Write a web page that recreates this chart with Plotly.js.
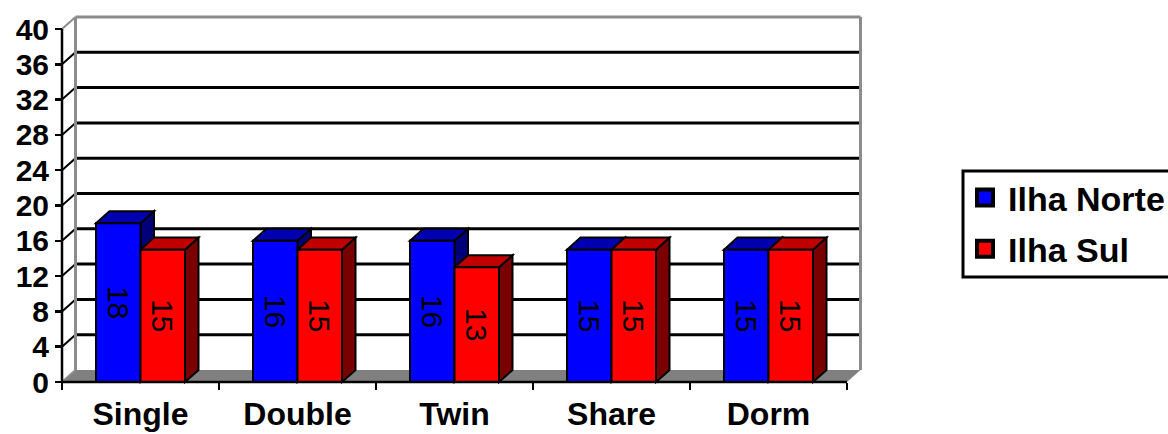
<!DOCTYPE html>
<html>
<head>
<meta charset="utf-8">
<script src="https://cdn.plot.ly/plotly-3.0.1.min.js"></script>
<style>
  html, body { margin: 0; padding: 0; background: #ffffff; }
  #chart { width: 1168px; height: 434px; }
</style>
</head>
<body>
<div id="chart"></div>
<script>
// ---- data ----
const categories = ['Single', 'Double', 'Twin', 'Share', 'Dorm'];
const ilhaNorte = [18, 16, 16, 15, 15];
const ilhaSul = [15, 15, 13, 15, 15];
const seriesNames = ['Ilha Norte', 'Ilha Sul'];
const yTickValues = [0, 4, 8, 12, 16, 20, 24, 28, 32, 36, 40];

// ---- styling / geometry ----
const FONT = 'Liberation Sans, Arial, sans-serif';
const frontColors = ['#0000FF', '#FF0000'];
const topColors = ['#0000B0', '#C00000'];
const sideColors = ['#00007A', '#7A0000'];
const WALL_GRAY = '#8c8c8c';

const W = 1168, H = 434;
const mL = 57, mR = 302, mT = 13, mB = 49;
const plotW = W - mL - mR, plotH = H - mT - mB;
const U = 157;            // px per category
const V = 353 / 40;       // px per y unit
const frontLeftPx = 62, frontZeroPx = 382;
const xr0 = -0.5 - (frontLeftPx - mL) / U;
const xr1 = xr0 + plotW / U;
const yr0 = -((H - mB) - frontZeroPx) / V;
const yr1 = yr0 + plotH / V;
const DX = 13.5 / U;      // depth offset in category units
const DY = 12 / V;        // depth offset in y units
const bargap = 0.433;
const bw = (1 - bargap) / 2;
const nCat = categories.length;
const xL = -0.5, xR = nCat - 0.5;
const yMax = yTickValues[yTickValues.length - 1];

const f = v => v.toFixed(4);
const P = pts => 'M' + pts.map(p => f(p[0]) + ',' + f(p[1])).join(' L') + ' Z';

const shapes = [];
// floor
shapes.push({type: 'path', xref: 'x', yref: 'y', layer: 'below',
  path: P([[xL, 0], [xL + DX, DY], [xR + DX, DY], [xR, 0]]),
  fillcolor: '#808080', line: {width: 0}});
// back wall gridlines and left-wall slants
yTickValues.forEach(t => {
  if (t === 0) return;
  const c = t === yMax ? WALL_GRAY : '#000000';
  shapes.push({type: 'line', xref: 'x', yref: 'y', layer: 'below',
    x0: xL + DX, x1: xR + DX, y0: t + DY, y1: t + DY, line: {color: c, width: 3}});
  shapes.push({type: 'line', xref: 'x', yref: 'y', layer: 'below',
    x0: xL, x1: xL + DX, y0: t, y1: t + DY, line: {color: c, width: 2}});
});
// wall edges
shapes.push({type: 'line', xref: 'x', yref: 'y', layer: 'below',
  x0: xL + DX, x1: xL + DX, y0: DY, y1: yMax + DY, line: {color: WALL_GRAY, width: 3}});
shapes.push({type: 'line', xref: 'x', yref: 'y', layer: 'below',
  x0: xR + DX, x1: xR + DX, y0: DY, y1: yMax + DY, line: {color: WALL_GRAY, width: 3}});
shapes.push({type: 'line', xref: 'x', yref: 'y', layer: 'below',
  x0: xL, x1: xL + DX, y0: 0, y1: DY, line: {color: WALL_GRAY, width: 2}});

// 3D faces of bars
const series = [ilhaNorte, ilhaSul];
for (let i = 0; i < nCat; i++) {
  series.forEach((vals, s) => {
    const v = vals[i];
    const x0 = i - bw + s * bw, x1 = x0 + bw;
    shapes.push({type: 'path', xref: 'x', yref: 'y', layer: 'below',
      path: P([[x1, 0], [x1 + DX, DY], [x1 + DX, v + DY], [x1, v]]),
      fillcolor: sideColors[s], line: {color: '#000000', width: 2}});
    shapes.push({type: 'path', xref: 'x', yref: 'y', layer: 'below',
      path: P([[x0, v], [x0 + DX, v + DY], [x1 + DX, v + DY], [x1, v]]),
      fillcolor: topColors[s], line: {color: '#000000', width: 2}});
  });
}
// front axis lines
shapes.push({type: 'line', xref: 'x', yref: 'y', layer: 'above',
  x0: xL, x1: xL, y0: 0, y1: yMax, line: {color: '#000000', width: 2.5}});
shapes.push({type: 'line', xref: 'x', yref: 'y', layer: 'above',
  x0: xL, x1: xR, y0: 0, y1: 0, line: {color: '#000000', width: 2.5}});

// legend frame (runs past the right edge, as in the original)
const pxToPaperX = px => (px - mL) / plotW;
const pxToPaperY = py => ((H - mB) - py) / plotH;
shapes.push({type: 'rect', xref: 'paper', yref: 'paper', layer: 'above',
  x0: pxToPaperX(963), x1: pxToPaperX(1185), y0: pxToPaperY(277), y1: pxToPaperY(171),
  fillcolor: 'rgba(0,0,0,0)', line: {color: '#000000', width: 3}});

const traces = series.map((vals, s) => ({
  type: 'bar', x: categories, y: vals, name: seriesNames[s], showlegend: false,
  marker: {color: frontColors[s], line: {color: '#000000', width: 2}},
  text: vals.map(String), textposition: 'inside', insidetextanchor: 'middle',
  textangle: 90, constraintext: 'none',
  textfont: {family: FONT, size: 30, color: '#000000'},
  hoverinfo: 'skip'
}));
// legend entries
seriesNames.forEach((n, s) => traces.push({
  type: 'scatter', mode: 'markers', x: [null], y: [null], name: n, showlegend: true,
  legendgroup: 'g' + s,
  marker: {symbol: 'square', size: 16, color: frontColors[s], line: {color: '#000000', width: 4}},
  hoverinfo: 'skip'
}));

const layout = {
  width: W, height: H,
  margin: {l: mL, r: mR, t: mT, b: mB, pad: 0},
  paper_bgcolor: '#ffffff', plot_bgcolor: 'rgba(0,0,0,0)',
  barmode: 'group', bargap: bargap, bargroupgap: 0,
  showlegend: true,
  xaxis: {
    type: 'category', categoryorder: 'array', categoryarray: categories,
    range: [xr0, xr1], autorange: false, fixedrange: true,
    showgrid: false, zeroline: false, showline: false,
    ticks: 'outside', tickson: 'boundaries', ticklen: 7, tickwidth: 2.5, tickcolor: '#000000',
    anchor: 'free', position: (0 - yr0) / (yr1 - yr0),
    ticklabelstandoff: 10,
    tickfont: {family: FONT, size: 32, color: '#000000', weight: 'bold'}
  },
  yaxis: {
    range: [yr0, yr1], autorange: false, fixedrange: true,
    tickmode: 'array', tickvals: yTickValues, ticktext: yTickValues.map(String),
    showgrid: false, zeroline: false, showline: false,
    ticks: 'outside', ticklen: 7, tickwidth: 2.5, tickcolor: '#000000',
    anchor: 'free', position: (xL - xr0) / (xr1 - xr0),
    tickfont: {family: FONT, size: 30, color: '#000000', weight: 'bold'}
  },
  legend: {
    xref: 'container', yref: 'container',
    x: 962 / W, y: 1 - 169 / H, xanchor: 'left', yanchor: 'top',
    bgcolor: 'rgba(0,0,0,0)', borderwidth: 0,
    font: {family: FONT, size: 34, color: '#000000', weight: 'bold'},
    traceorder: 'grouped', tracegroupgap: 4, itemwidth: 36
  },
  shapes: shapes
};

Plotly.newPlot('chart', traces, layout, {staticPlot: true, displayModeBar: false});
</script>
</body>
</html>
